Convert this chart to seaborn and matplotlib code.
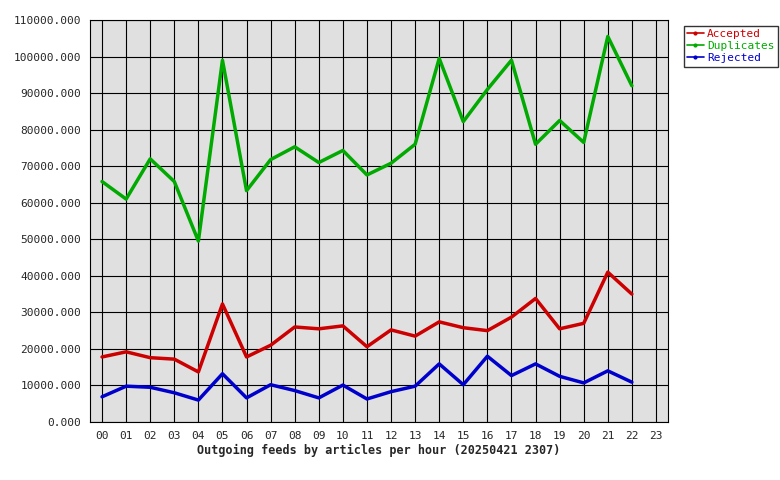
import matplotlib
matplotlib.use("Agg")
import matplotlib.pyplot as plt
import seaborn as sns
import pandas as pd

hours = [f"{h:02d}" for h in range(24)]
accepted = [17800, 19200, 17600, 17200, 13700, 32300, 17800, 21000, 26000, 25500, 26300, 20600,
            25200, 23500, 27400, 25800, 25000, 28700, 33800, 25500, 27000, 41000, 35000]
duplicates = [65800, 61000, 72000, 65800, 49500, 99000, 63300, 71800, 75300, 71000, 74300, 67600,
              70800, 76000, 99500, 82200, 91000, 99000, 76000, 82500, 76500, 105500, 92000]
rejected = [6900, 9800, 9500, 8000, 6000, 13200, 6600, 10200, 8600, 6600, 10100, 6300,
            8300, 9800, 15900, 10200, 18000, 12700, 15900, 12500, 10700, 14000, 10900]

sns.set_style("white")
plt.rcParams['font.family'] = ['DejaVu Sans Mono']

n = len(accepted)
df = pd.DataFrame({
    "x": list(range(n)) * 3,
    "v": accepted + duplicates + rejected,
    "s": ["Accepted"] * n + ["Duplicates"] * n + ["Rejected"] * n,
})
colors = {"Accepted": "#cc0000", "Duplicates": "#00aa00", "Rejected": "#0000cc"}

fig = plt.figure(figsize=(7.8, 4.8), dpi=100)
ax = fig.add_axes([90/780, 58/480, 578/780, 402/480])
ax.set_facecolor("#e0e0e0")
sns.lineplot(data=df, x="x", y="v", hue="s", palette=colors, linewidth=2.5, ax=ax, legend=False)

ax.set_xlim(-0.5, 23.5)
ax.set_ylim(0, 110000)
ax.set_xticks(range(24))
ax.set_xticklabels(hours, fontsize=8)
yt = list(range(0, 110001, 10000))
ax.set_yticks(yt)
ax.set_yticklabels([f"{v}.000" for v in yt], fontsize=8)
ax.grid(True, color="black", linewidth=0.8)
ax.set_axisbelow(True)
for sp in ax.spines.values():
    sp.set_color("black")
ax.set_xlabel("Outgoing feeds by articles per hour (20250421 2307)", fontsize=8.5,
              fontweight="bold", labelpad=2)
ax.set_ylabel("")
ax.tick_params(length=3)

handles = [plt.Line2D([], [], color=colors[k], marker="o", markersize=2, linewidth=1.2) for k in colors]
leg = fig.legend(handles, list(colors), loc="upper left", bbox_to_anchor=(678/780, 1 - 20/480),
                 fontsize=8, frameon=True, fancybox=False, edgecolor="black", handlelength=1.5,
                 borderpad=0.3, labelspacing=0.2, handletextpad=0.3)
for t, k in zip(leg.get_texts(), colors):
    t.set_color(colors[k])

fig.savefig("out.png", dpi=100, facecolor="white")
